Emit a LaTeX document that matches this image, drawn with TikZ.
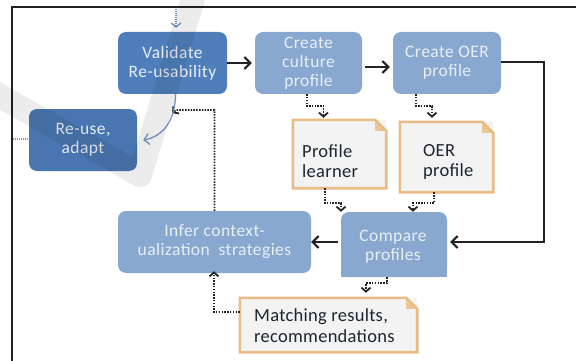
\documentclass[tikz,border=0pt]{standalone}
\usepackage{fontspec}
\setmainfont{Carlito}
\newfontfamily\stepfont[LetterSpace=2.5]{Carlito}
\newfontfamily\docfont[LetterSpace=1.5]{Carlito}
\usetikzlibrary{arrows.meta}

\definecolor{stepdark}{HTML}{4F7EBA}
\definecolor{stepdeep}{HTML}{4976B1}
\definecolor{steplight}{HTML}{89A8CF}
\definecolor{steptext}{HTML}{E8EEF6}
\definecolor{docfill}{HTML}{F2F3F2}
\definecolor{docedge}{HTML}{E8BD85}
\definecolor{docfold}{HTML}{EDC793}
\definecolor{doctext}{HTML}{1F2530}
\definecolor{inkline}{HTML}{222222}
\definecolor{bluelink}{HTML}{7399CC}

\begin{document}
\begin{tikzpicture}[x=1pt,y=-1pt,
  stepbox/.style={rectangle, rounded corners=8pt, inner sep=0pt, align=center,
    text=steptext, font=\stepfont\fontsize{17.5}{19}\selectfont},
  docbox/.style={rectangle, inner sep=0pt, fill=docfill},
  docline/.style={draw=docedge, line width=2.6pt, line join=miter},
  doclabel/.style={inner sep=0pt, align=left, anchor=west, text=doctext,
    font=\docfont\fontsize{18.5}{20.5}\selectfont},
  flow/.style={draw=inkline, line width=2pt,
    -{Straight Barb[length=6pt,width=12pt,line width=2pt]}},
  dotflow/.style={draw=inkline, line width=1.8pt, dash pattern=on 1.5pt off 1.3pt,
    -{Straight Barb[length=4pt,width=9pt,line width=1.8pt]}},
  bluedot/.style={draw=bluelink, line width=1.4pt, dash pattern=on 1pt off 1pt},
  frameline/.style={draw=inkline, line width=2pt}
]
\useasboundingbox (0,0) rectangle (576,361);

% outer frame (top and left sides)
\draw[frameline] (12,361) -- (12,7.5) -- (576,7.5);

% process steps
\node[stepbox, fill=stepdark, minimum width=109pt, minimum height=62pt] (val) at (172.5,63) {Validate\\Re-usability};
\node[stepbox, fill=steplight, minimum width=107pt, minimum height=62pt] (cul) at (308.5,63) {Create\\culture\\profile};
\node[stepbox, fill=steplight, minimum width=108pt, minimum height=62pt] (oer) at (447,63) {Create OER\\profile};
\node[stepbox, fill=stepdeep, minimum width=108pt, minimum height=62pt] (reuse) at (83,140) {Re-use,\\adapt};
\node[stepbox, fill=steplight, minimum width=193pt, minimum height=62pt] (infer) at (214.5,242) {Infer context-\\ualization\ \ strategies};
\node[stepbox, fill=steplight, minimum width=106pt, minimum height=65pt] (cmp) at (394,244.5) {};
\fill[steplight] ([yshift=10pt]cmp.south west) rectangle (cmp.south east);
\node[stepbox, inner sep=0pt] (cmptext) at (393,246.5) {Compare\\profiles};

% documents with a folded corner
\node[docbox, minimum width=93pt, minimum height=68pt] (d1) at (339.5,154) {};
\node[docbox, minimum width=93pt, minimum height=70pt] (d2) at (446.5,157) {};
\node[docbox, minimum width=177pt, minimum height=54pt] (match) at (328.5,325) {};
\foreach \d in {d1,d2,match}{
  \fill[docfold] ([xshift=-11pt]\d.north east) -- ([yshift=-11pt]\d.north east) -- ([xshift=-11pt,yshift=-11pt]\d.north east) -- cycle;
  \draw[docline] (\d.north west) -- ([xshift=-11pt]\d.north east) -- ([yshift=-11pt]\d.north east) -- (\d.south east) -- (\d.south west) -- cycle;
}
\node[doclabel] (d1t) at (302,161) {Profile\\learner};
\node[doclabel] (d2t) at (423,162) {OER\\profile};
\node[doclabel] (matcht) at (254,325.5) {Matching results,\\recommendations};

% main flow
\draw[flow, shorten >=3pt] (val.east) -- (cul.west);
\draw[flow, shorten <=3pt, shorten >=3pt] ([yshift=-4pt]cul.east) -- ([yshift=-4pt]oer.west);
\coordinate (loop) at (544,242);
\draw[flow, line join=miter] ([yshift=1pt]oer.east) -| (loop) -- ([xshift=3pt]cmp.east |- loop);
\draw[flow, shorten <=3pt] (cmp.west |- infer.east) -- (infer.east);

% dotted document links
\draw[dotflow, shorten >=2pt] ([xshift=-1.5pt]cul.south) -- ++(0,12) -| ([xshift=-16pt]d1.north);
\draw[dotflow, shorten >=4pt] ([xshift=-31pt]oer.south) -- ++(0,12) -| ([xshift=-14.5pt]d2.north);
\draw[dotflow] ([xshift=-14.5pt]d1.south) -- ++(0,15) -| ([xshift=-53pt]cmp.north);
\draw[dotflow] ([xshift=-12.5pt]d2.south) -- ++(0,11) -| ([xshift=19pt]cmp.north);
\draw[dotflow, shorten >=5pt] ([xshift=-7pt]cmp.south) -- ++(0,6) -| ([xshift=37.5pt]match.north);
\draw[dotflow, shorten >=-2pt] ([yshift=13pt]match.west) -| ([xshift=-0.5pt]infer.south);
\coordinate (meet) at (172,113);
\draw[dotflow] (infer.north) |- ([xshift=4pt,yshift=3pt]meet) -- (meet);

% blue links
\draw[bluelink, line width=1.3pt, -{Straight Barb[length=5pt,width=11pt,line width=1.3pt]}]
  ([xshift=3pt]val.south) .. controls +(0,28) and +(18,-3) .. ([xshift=6pt]reuse.east);
\coordinate (intop) at (176,9);
\draw[bluedot, shorten >=4pt, -{Straight Barb[length=4pt,width=10pt,line width=1.3pt]}] (intop) -- ([xshift=3.5pt]val.north);
\coordinate (inleft) at (13,139);
\draw[bluedot] (inleft) -- (reuse.west |- inleft);

% faint check-mark stroke across the background
\draw[black, opacity=0.075, line width=24pt, line join=round] (-14,88) -- (140,175) -- (197,-14);
\end{tikzpicture}
\end{document}
